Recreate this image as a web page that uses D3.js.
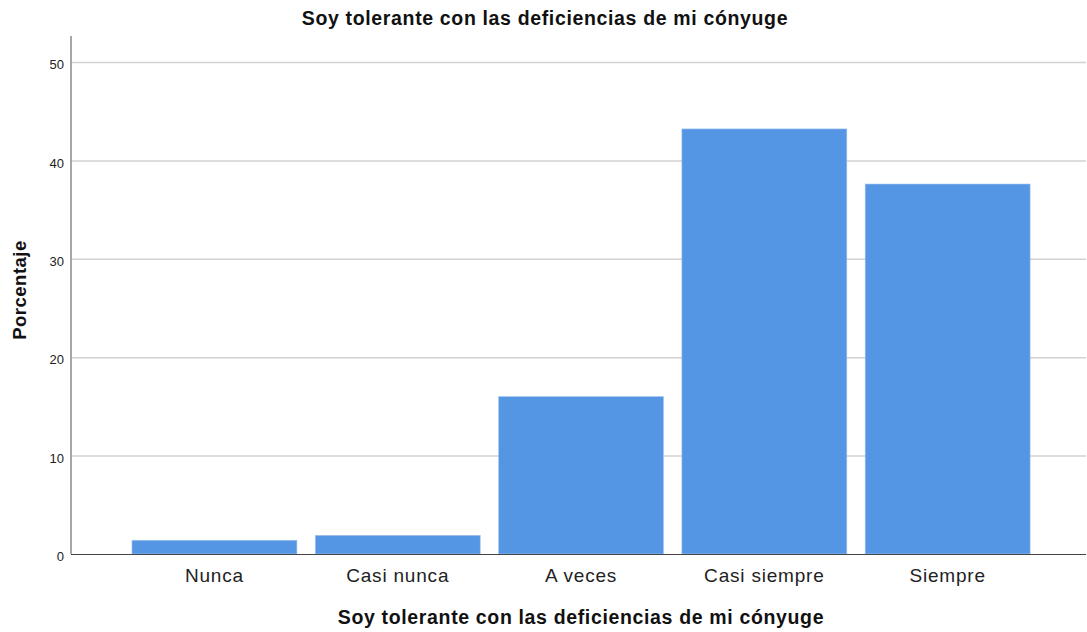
<!DOCTYPE html>
<html><head><meta charset="utf-8">
<script src="https://cdn.jsdelivr.net/npm/d3@7"></script>
<style>body{margin:0;background:#fff;font-family:"Liberation Sans",Arial,sans-serif}</style>
</head><body>
<svg id="c" width="1087" height="632"></svg>
<script>
const categories = ["Nunca","Casi nunca","A veces","Casi siempre","Siempre"];
const values = [1.4, 1.9, 16.0, 43.2, 37.6];
const yTicks = [0,10,20,30,40,50];
const title = "Soy tolerante con las deficiencias de mi cónyuge";
const xTitle = "Soy tolerante con las deficiencias de mi cónyuge";
const yTitle = "Porcentaje";
(function(){
const svg = d3.select("#c");
const mL = 71, mR = 1086, mT = 36, mB = 554;
const y = d3.scaleLinear().domain([0,50]).range([mB, 62]);
const x = d3.scaleBand().domain(categories).range([122.8, 1039.3]).paddingInner(0.1).paddingOuter(0.05);

svg.append("g").selectAll("line").data(yTicks.filter(d=>d>0)).join("line")
  .attr("x1", mL).attr("x2", mR).attr("y1", d=>y(d)+0.5).attr("y2", d=>y(d)+0.5)
  .attr("stroke", "#d2d2d2").attr("stroke-width", 1.5);

svg.append("g").selectAll("rect").data(values).join("rect")
  .attr("x", (d,i)=>x(categories[i])).attr("width", x.bandwidth())
  .attr("y", d=>y(d)).attr("height", d=>mB - y(d))
  .attr("fill", "#5596e4").attr("stroke", "#a9c8f0").attr("stroke-width", 0.6);

svg.append("line").attr("x1", mL).attr("x2", mL).attr("y1", mT).attr("y2", mB)
  .attr("stroke", "#8a8a8a").attr("stroke-width", 1.5);
svg.append("line").attr("x1", mL).attr("x2", mR).attr("y1", mB+0.5).attr("y2", mB+0.5)
  .attr("stroke", "#444").attr("stroke-width", 1.2);

svg.append("g").selectAll("text").data(yTicks).join("text")
  .attr("x", mL - 7).attr("y", d=>y(d)).attr("dy", "0.55em").attr("text-anchor","end")
  .attr("font-size", 13).attr("fill", "#222").text(d=>d);

svg.append("g").selectAll("text").data(categories).join("text")
  .attr("x", d=>x(d)+x.bandwidth()/2).attr("y", 582).attr("text-anchor","middle")
  .attr("font-size", 19).attr("letter-spacing", 0.8).attr("fill", "#222").text(d=>d);

svg.append("text").attr("x", 545).attr("y", 25).attr("text-anchor","middle")
  .attr("font-size", 19.5).attr("letter-spacing", 0.65).attr("font-weight","bold").attr("fill","#111").text(title);
svg.append("text").attr("x", 581).attr("y", 624).attr("text-anchor","middle")
  .attr("font-size", 19.5).attr("letter-spacing", 0.65).attr("font-weight","bold").attr("fill","#111").text(xTitle);
svg.append("text").attr("transform","translate(26,290) rotate(-90)").attr("text-anchor","middle")
  .attr("font-size", 18.5).attr("letter-spacing", 0.5).attr("font-weight","bold").attr("fill","#111").text(yTitle);
})();
</script>
</body></html>
